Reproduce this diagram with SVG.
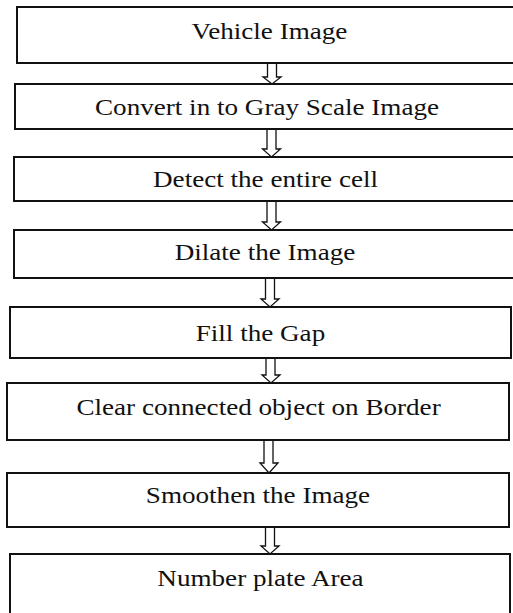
<svg xmlns="http://www.w3.org/2000/svg" width="513" height="613" viewBox="0 0 513 613">
<style>
.box{fill:#fff;stroke:#111;stroke-width:2}
.lbl{font-family:"Liberation Serif","Times New Roman",serif;font-size:24px;fill:#111;text-anchor:middle}
.arr{fill:#fff;stroke:#111;stroke-width:1.3;stroke-linejoin:miter}
</style>
<rect width="513" height="613" fill="#fff"/>
<g id="connectors">
<polygon class="arr" points="267.5,63 276.5,63 276.5,77 281,77 272,84 263,77 267.5,77"/>
<polygon class="arr" points="267,129 276,129 276,149 280.5,149 271.5,157 262.5,149 267,149"/>
<polygon class="arr" points="267,201 276,201 276,222 280.5,222 271.5,230 262.5,222 267,222"/>
<polygon class="arr" points="265.5,278 274.5,278 274.5,299 279,299 270,307 261,299 265.5,299"/>
<polygon class="arr" points="266,358 275,358 275,375 280,375 271,383 262,375 266,375"/>
<polygon class="arr" points="264,440 273,440 273,463 278,463 269,473 260,463 264,463"/>
<polygon class="arr" points="265.5,527 274.5,527 274.5,546 279,546 270,554 261,546 265.5,546"/>
</g>
<g id="n1"><rect class="box" x="17" y="7" width="503" height="56"/><text class="lbl" transform="scale(1.13 1)" x="238.5" y="39">Vehicle Image</text></g>
<g id="n2"><rect class="box" x="15" y="84" width="505" height="45"/><text class="lbl" transform="scale(1.13 1)" x="236.3" y="115">Convert in to Gray Scale Image</text></g>
<g id="n3"><rect class="box" x="14" y="157" width="506" height="44"/><text class="lbl" transform="scale(1.13 1)" x="235" y="187">Detect the entire cell</text></g>
<g id="n4"><rect class="box" x="14" y="230" width="506" height="48"/><text class="lbl" transform="scale(1.13 1)" x="234.5" y="260">Dilate the Image</text></g>
<g id="n5"><rect class="box" x="10" y="307" width="501" height="51"/><text class="lbl" transform="scale(1.13 1)" x="230.5" y="341">Fill the Gap</text></g>
<g id="n6"><rect class="box" x="7" y="383" width="502" height="57"/><text class="lbl" transform="scale(1.13 1)" x="228.8" y="415">Clear connected object on Border</text></g>
<g id="n7"><rect class="box" x="7" y="473" width="502" height="54"/><text class="lbl" transform="scale(1.13 1)" x="228.3" y="503">Smoothen the Image</text></g>
<g id="n8"><rect class="box" x="10" y="554" width="500" height="70"/><text class="lbl" transform="scale(1.13 1)" x="230.5" y="586">Number plate Area</text></g>
</svg>
